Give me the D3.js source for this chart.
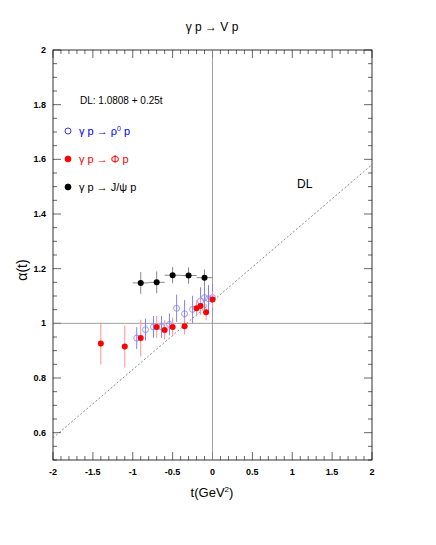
<!DOCTYPE html><html><head><script src="https://cdn.jsdelivr.net/npm/d3@7"></script>
<style>body{margin:0;background:#fff}text{font-family:"Liberation Sans",Arial,sans-serif}</style></head><body><svg id="c" width="436" height="545"></svg>
<script>
const xTicks=[-2,-1.5,-1,-0.5,0,0.5,1,1.5,2];
const yTicks=[0.6,0.8,1,1.2,1.4,1.6,1.8,2];
const jpsiT=[-0.9,-0.7,-0.5,-0.3,-0.1], jpsiA=[1.148,1.150,1.176,1.175,1.167], jpsiE=[0.04,0.04,0.03,0.03,0.03];
const phiT=[-1.4,-1.1,-0.9,-0.7,-0.6,-0.5,-0.35,-0.2,-0.15,-0.08,0.0];
const phiA=[0.926,0.915,0.946,0.987,0.976,0.987,0.989,1.055,1.063,1.041,1.087];
const phiE=[0.077,0.077,0.067,0.04,0.035,0.035,0.03,0.03,0.03,0.03,0.03];
const rhoT=[-0.95,-0.84,-0.74,-0.64,-0.54,-0.45,-0.35,-0.25,-0.15,-0.10,-0.05,0.0];
const rhoA=[0.946,0.977,0.987,0.987,0.996,1.055,1.035,1.051,1.082,1.094,1.09,1.094];
const rhoE=[0.04,0.04,0.04,0.04,0.04,0.05,0.05,0.05,0.05,0.05,0.05,0.05];
const svg=d3.select("#c");
const x=d3.scaleLinear().domain([-2,2]).range([53,372]);
const y=d3.scaleLinear().domain([0.5,2]).range([460,50]);
const g=svg.append("g");
g.append("rect").attr("x",53).attr("y",50).attr("width",319).attr("height",410).attr("fill","none").attr("stroke","#000").attr("stroke-width",0.8);
const minorX=d3.range(-2,2.001,0.1), minorY=d3.range(0.5,2.001,0.05);
minorX.forEach(v=>{const big=Math.abs(v*2-Math.round(v*2))<1e-6;const L=big?8:4;
 g.append("line").attr("x1",x(v)).attr("x2",x(v)).attr("y1",460).attr("y2",460-L).attr("stroke","#000").attr("stroke-width",0.6);
 g.append("line").attr("x1",x(v)).attr("x2",x(v)).attr("y1",50).attr("y2",50+L).attr("stroke","#000").attr("stroke-width",0.6);});
minorY.forEach(v=>{const big=Math.abs(v*5-Math.round(v*5))<1e-6;const L=big?8:4;
 g.append("line").attr("y1",y(v)).attr("y2",y(v)).attr("x1",53).attr("x2",53+L).attr("stroke","#000").attr("stroke-width",0.6);
 g.append("line").attr("y1",y(v)).attr("y2",y(v)).attr("x1",372).attr("x2",372-L).attr("stroke","#000").attr("stroke-width",0.6);});
xTicks.forEach(v=>g.append("text").attr("x",x(v)).attr("y",475).attr("text-anchor","middle").attr("font-size",9).attr("font-weight","bold").text(v));
yTicks.forEach(v=>g.append("text").attr("x",46).attr("y",y(v)+3).attr("text-anchor","end").attr("font-size",9).attr("font-weight","bold").text(v));
g.append("line").attr("x1",x(0)).attr("x2",x(0)).attr("y1",50).attr("y2",460).attr("stroke","#888").attr("stroke-width",0.8);
g.append("line").attr("x1",53).attr("x2",372).attr("y1",y(1)).attr("y2",y(1)).attr("stroke","#888").attr("stroke-width",0.8);
g.append("line").attr("x1",x(-2)).attr("y1",y(1.0808-0.5)).attr("x2",x(2)).attr("y2",y(1.0808+0.5)).attr("stroke","#555").attr("stroke-width",0.7).attr("stroke-dasharray","2,2");
g.append("text").attr("x",297).attr("y",188).attr("font-size",12).text("DL");
function series(T,A,E,col,fill,xe){T.forEach((t,i)=>{
 g.append("line").attr("x1",x(t)).attr("x2",x(t)).attr("y1",y(A[i]-E[i])).attr("y2",y(A[i]+E[i])).attr("stroke",col).attr("stroke-width",1);
 if(xe) g.append("line").attr("x1",x(t-xe)).attr("x2",x(t+xe)).attr("y1",y(A[i])).attr("y2",y(A[i])).attr("stroke",col).attr("stroke-width",1);
 g.append("circle").attr("cx",x(t)).attr("cy",y(A[i])).attr("r",3).attr("fill",fill).attr("stroke",fill=="none"?col:"none").attr("stroke-width",0.8);});}
series(rhoT,rhoA,rhoE,"#8080ff","none",0);
series(phiT,phiA,phiE,"#ff9090","#ff0000",0);
series(jpsiT,jpsiA,jpsiE,"#888","#000",0.1);
svg.append("text").attr("x",212).attr("y",31).attr("text-anchor","middle").attr("font-size",12).text("γ p → V p");
svg.append("text").attr("x",212).attr("y",497).attr("text-anchor","middle").attr("font-size",13).html("t(GeV<tspan font-size='8' dy='-5'>2</tspan><tspan dy='5'>)</tspan>");
svg.append("text").attr("transform","translate(27,270) rotate(-90)").attr("text-anchor","middle").attr("font-size",14).text("α(t)");
svg.append("text").attr("x",80).attr("y",104).attr("font-size",10).text("DL: 1.0808 + 0.25t");
const leg=[{y:131,col:"#0000ff",fill:"none",html:"γ p → ρ<tspan font-size='7' dy='-4'>0</tspan><tspan dy='4'> p</tspan>"},
 {y:159,col:"#ff0000",fill:"#ff0000",html:"γ p → Φ p"},{y:187,col:"#000",fill:"#000",html:"γ p → J/ψ p"}];
leg.forEach(l=>{svg.append("circle").attr("cx",68).attr("cy",l.y).attr("r",3).attr("fill",l.fill).attr("stroke",l.col).attr("stroke-width",0.8);
 svg.append("text").attr("x",79).attr("y",l.y+4).attr("font-size",11).attr("fill",l.col).html(l.html);});
</script></body></html>
